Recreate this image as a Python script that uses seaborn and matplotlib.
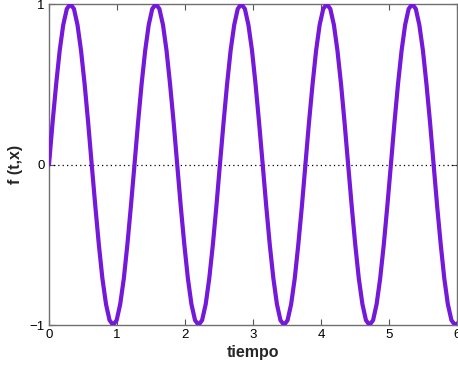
import pandas as pd
import matplotlib.pyplot as plt
import seaborn as sns

# Values (tiempo vs f(t,x))
tiempo = [
    0.000, 0.052, 0.105, 0.157, 0.209, 0.262, 0.314, 0.367, 0.419, 0.471, 0.524, 0.576,
    0.628, 0.681, 0.733, 0.785, 0.838, 0.890, 0.942, 0.995, 1.047, 1.100, 1.152, 1.204,
    1.257, 1.309, 1.361, 1.414, 1.466, 1.518, 1.571, 1.623, 1.676, 1.728, 1.780, 1.833,
    1.885, 1.937, 1.990, 2.042, 2.094, 2.147, 2.199, 2.251, 2.304, 2.356, 2.409, 2.461,
    2.513, 2.566, 2.618, 2.670, 2.723, 2.775, 2.827, 2.880, 2.932, 2.985, 3.037, 3.089,
    3.142, 3.194, 3.246, 3.299, 3.351, 3.403, 3.456, 3.508, 3.560, 3.613, 3.665, 3.718,
    3.770, 3.822, 3.875, 3.927, 3.979, 4.032, 4.084, 4.136, 4.189, 4.241, 4.294, 4.346,
    4.398, 4.451, 4.503, 4.555, 4.608, 4.660, 4.712, 4.765, 4.817, 4.869, 4.922, 4.974,
    5.027, 5.079, 5.131, 5.184, 5.236, 5.288, 5.341, 5.393, 5.445, 5.498, 5.550, 5.603,
    5.655, 5.707, 5.760, 5.812, 5.864, 5.917, 5.969, 6.000,
]
f_tx = [
    0.00, 0.26, 0.50, 0.71, 0.87, 0.97, 1.00, 0.97, 0.87, 0.71, 0.50, 0.26,
    0.00, -0.26, -0.50, -0.71, -0.87, -0.97, -1.00, -0.97, -0.87, -0.71, -0.50, -0.26,
    0.00, 0.26, 0.50, 0.71, 0.87, 0.97, 1.00, 0.97, 0.87, 0.71, 0.50, 0.26,
    0.00, -0.26, -0.50, -0.71, -0.87, -0.97, -1.00, -0.97, -0.87, -0.71, -0.50, -0.26,
    0.00, 0.26, 0.50, 0.71, 0.87, 0.97, 1.00, 0.97, 0.87, 0.71, 0.50, 0.26,
    0.00, -0.26, -0.50, -0.71, -0.87, -0.97, -1.00, -0.97, -0.87, -0.71, -0.50, -0.26,
    0.00, 0.26, 0.50, 0.71, 0.87, 0.97, 1.00, 0.97, 0.87, 0.71, 0.50, 0.26,
    0.00, -0.26, -0.50, -0.71, -0.87, -0.97, -1.00, -0.97, -0.87, -0.71, -0.50, -0.26,
    0.00, 0.26, 0.50, 0.71, 0.87, 0.97, 1.00, 0.97, 0.87, 0.71, 0.50, 0.26,
    0.00, -0.26, -0.50, -0.71, -0.87, -0.97, -1.00, -0.99,
]
x_ticks = [0, 1, 2, 3, 4, 5, 6]
y_ticks = [-1, 0, 1]
y_tick_labels = ['\u22121', '0', '1']

df = pd.DataFrame({'tiempo': tiempo, 'f': f_tx})

sns.set_style('ticks')
plt.rcParams['font.family'] = ['Liberation Sans', 'DejaVu Sans']

fig = plt.figure(figsize=(4.58, 3.70), dpi=100)
ax = fig.add_axes([0.107, 0.1216, 0.891, 0.8674])

# zero reference line
ax.axhline(0, color='black', linestyle=(0, (1, 2.5)), linewidth=0.9, zorder=1)

sns.lineplot(data=df, x='tiempo', y='f', ax=ax, color='#7418da',
             linewidth=3.0, sort=False, estimator=None, zorder=3)

ax.set_xlim(0, 6)
ax.set_ylim(-1, 1)
ax.set_xticks(x_ticks)
ax.set_yticks(y_ticks)
ax.set_yticklabels(y_tick_labels)
ax.tick_params(direction='in', length=4, width=0.8, color='#555555',
               labelsize=9.5, labelcolor='black', top=True, right=True, pad=3)
for s in ax.spines.values():
    s.set_color('#707070')
    s.set_linewidth(1.0)
    s.set_visible(True)

ax.set_xlabel('tiempo', fontsize=11.5, fontweight='bold', labelpad=3)
ax.set_ylabel('f (t,x)', fontsize=11.5, fontweight='bold', labelpad=5)

fig.savefig('out.png', dpi=100)
